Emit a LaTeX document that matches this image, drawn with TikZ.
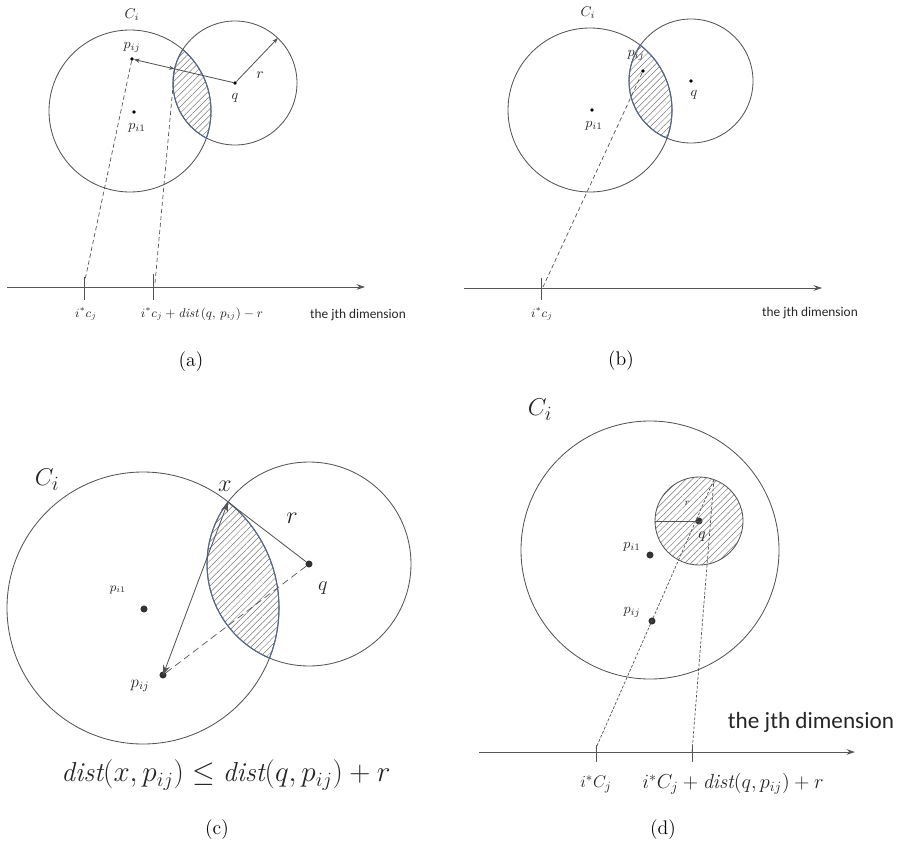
\documentclass[tikz,border=0pt]{standalone}
\usepackage{fontspec}
\newfontfamily\sansf{Carlito}
\usetikzlibrary{arrows.meta,patterns.meta,calc}
\definecolor{ln}{HTML}{555555}
\definecolor{lensc}{HTML}{56678A}
\definecolor{hatchc}{HTML}{777777}
\newcommand{\fs}[1]{\fontsize{#1}{#1}\selectfont}
\begin{document}
\begin{tikzpicture}[x=0.025cm,y=-0.025cm,
  circ/.style={draw=ln,line width=0.6pt},
  lensedge/.style={draw=lensc,line width=0.75pt},
  hatchfill/.style={pattern={Lines[angle=45,distance=3.2pt,line width=0.35pt]},pattern color=hatchc},
  dashln/.style={draw=ln,line width=0.5pt,dash pattern=on 3pt off 2pt},
  solidln/.style={draw=ln,line width=0.6pt},
  axisln/.style={draw=ln,line width=0.6pt,-{Stealth[length=6pt,width=4pt]}},
  tickln/.style={draw=ln,line width=0.6pt},
  dotS/.style={circle,fill=black,inner sep=0pt,minimum size=2.6pt},
  dotL/.style={circle,fill=black!80,inner sep=0pt,minimum size=5pt},
  lbl/.style={inner sep=0pt,text=black!85},
  dimS/.style={inner sep=0pt,font=\sansf\fs{9.5},text=black!85},
  captxt/.style={inner sep=0pt,font=\fs{14}},
]
\useasboundingbox (0,0) rectangle (905,847);

% ================= (a) =================
\coordinate (A1) at (130,111);
\node[dotS] (qa) at (235,83) {};
\begin{scope}\clip (A1) circle[radius=81]; \fill[hatchfill] (qa.center) circle[radius=62];\end{scope}
\draw[circ] (A1) circle[radius=81];
\draw[circ] (qa.center) circle[radius=62];
\begin{scope}\clip (A1) circle[radius=81]; \draw[lensedge] (qa.center) circle[radius=62];\end{scope}
\begin{scope}\clip (qa.center) circle[radius=62]; \draw[lensedge] (A1) circle[radius=81];\end{scope}
\node[dotS] (pija) at (132,59) {};
\node[dotS] (pi1a) at (134,112) {};
\coordinate (ea) at ($(qa.center)!1.55cm!(pija.center)$);
\coordinate (ra) at (277.8,38.1);
\draw[solidln,{Stealth[length=4pt,width=3pt]}-{Stealth[length=4pt,width=3pt]}] (pija) -- (ea);
\draw[solidln] (ea) -- (qa);
\draw[solidln,-{Stealth[length=4pt,width=3pt]}] (qa) -- (ra);
\coordinate (a0) at (7,287);
\coordinate (a1) at (365,287);
\draw[axisln] (a0) -- (a1);
\coordinate (ta1) at (84,277); \coordinate (tb1) at (84,300);
\coordinate (ta2) at (153,274); \coordinate (tb2) at (153,300);
\draw[tickln] (ta1) -- (tb1);
\draw[tickln] (ta2) -- (tb2);
\coordinate (da1) at (85,280);
\coordinate (da2) at (155,283);
\draw[dashln] (pija) -- (da1);
\draw[dashln] (ea) -- (da2);
\node[lbl,font=\fs{10}] (cia) at (132,15) {$C_i$};
\node[lbl,font=\fs{10}] (lpija) at (132,47) {$p_{ij}$};
\node[lbl,font=\fs{10}] (lpi1a) at (137,128) {$p_{i1}$};
\node[lbl,font=\fs{10}] (lqa) at (235,98) {$q$};
\node[lbl,font=\fs{11}] (lra) at (260,75) {$r$};
\node[lbl,font=\fs{9}] (xa1) at (86,314) {$i^{*}c_{j}$};
\node[lbl,font=\fs{9}] (xa2) at (202,314) {$i^{*}c_{j}+\mathit{dist}\,(q,\,p_{ij})-r$};
\node[dimS] (dima) at (358,315) {the jth dimension};
\node[captxt] (capa) at (191,362) {(a)};

% ================= (b) =================
\coordinate (B1) at (590,110);
\node[dotS] (qb) at (691,81) {};
\begin{scope}\clip (B1) circle[radius=82]; \fill[hatchfill] (qb.center) circle[radius=62];\end{scope}
\draw[circ] (B1) circle[radius=82];
\draw[circ] (qb.center) circle[radius=62];
\begin{scope}\clip (B1) circle[radius=82]; \draw[lensedge] (qb.center) circle[radius=62];\end{scope}
\begin{scope}\clip (qb.center) circle[radius=62]; \draw[lensedge] (B1) circle[radius=82];\end{scope}
\node[dotS] (pijb) at (643,71) {};
\node[dotS] (pi1b) at (592,110) {};
\coordinate (b0) at (464,288);
\coordinate (b1) at (822,288);
\draw[axisln] (b0) -- (b1);
\coordinate (tbA) at (541,278); \coordinate (tbB) at (541,300);
\draw[tickln] (tbA) -- (tbB);
\coordinate (db1) at (543,287);
\draw[dashln] (pijb) -- (db1);
\node[lbl,font=\fs{10}] (cib) at (588,13) {$C_i$};
\node[lbl,font=\fs{10}] (lpijb) at (636,55) {$p_{ij}$};
\node[lbl,font=\fs{10}] (lpi1b) at (594,126) {$p_{i1}$};
\node[lbl,font=\fs{10}] (lqb) at (694,95) {$q$};
\node[lbl,font=\fs{9}] (xb1) at (542,314) {$i^{*}c_{j}$};
\node[dimS] (dimb) at (810,313) {the jth dimension};
\node[captxt] (capb) at (621,361) {(b)};

% ================= (c) =================
\coordinate (C1) at (143,608);
\node[dotL] (qc) at (309,564) {};
\begin{scope}\clip (C1) circle[radius=136]; \fill[hatchfill] (qc.center) circle[radius=102];\end{scope}
\draw[circ] (C1) circle[radius=136];
\draw[circ] (qc.center) circle[radius=102];
\begin{scope}\clip (C1) circle[radius=136]; \draw[lensedge] (qc.center) circle[radius=102];\end{scope}
\begin{scope}\clip (qc.center) circle[radius=102]; \draw[lensedge] (C1) circle[radius=136];\end{scope}
\coordinate (xc) at (228,502);
\node[dotL] (pijc) at (163,675) {};
\node[dotL] (pi1c) at (144,609) {};
\draw[solidln,{Stealth[length=7pt,width=5pt]}-{Stealth[length=7pt,width=5pt]}] (xc) -- (pijc.center);
\draw[solidln] (xc) -- (qc);
\draw[dashln,dash pattern=on 5pt off 3pt] (qc) -- (pijc);
\node[lbl,font=\fs{19}] (cic) at (47,480) {$C_i$};
\node[lbl,font=\fs{18}] (lxc) at (225,486) {$x$};
\node[lbl,font=\fs{18}] (lrc) at (292,518) {$r$};
\node[lbl,font=\fs{14}] (lqc) at (323,588) {$q$};
\node[lbl,font=\fs{9}] (lpi1c) at (118,590) {$p_{i1}$};
\node[lbl,font=\fs{12}] (lpijc) at (140,686) {$p_{ij}$};
\node[lbl,font=\fs{19.5}] (formc) at (226,775) {$\mathit{dist}(x,p_{ij})\le \mathit{dist}(q,p_{ij})+r$};
\node[captxt] (capc) at (217,830) {(c)};

% ================= (d) =================
\coordinate (D1) at (650,550);
\node[dotL] (qd) at (699,521) {};
\fill[hatchfill] (qd.center) circle[radius=44];
\draw[circ] (D1) circle[radius=129];
\draw[circ] (qd.center) circle[radius=44];
\coordinate (rd) at (655,521);
\draw[solidln] (rd) -- (qd.center);
\coordinate (Td) at (713.9,479.6);
\node[dotL] (pi1d) at (650,555) {};
\node[dotL] (pijd) at (652,621) {};
\coordinate (d0) at (479,752);
\coordinate (d1) at (855,752);
\draw[axisln] (d0) -- (d1);
\coordinate (tdA) at (596,745); \coordinate (tdB) at (596,762);
\coordinate (tdC) at (692,747); \coordinate (tdD) at (692,762);
\draw[tickln] (tdA) -- (tdB);
\draw[tickln] (tdC) -- (tdD);
\coordinate (dd1) at (596,748);
\coordinate (dd2) at (692,752);
\draw[dashln,dash pattern=on 2pt off 1.2pt] (Td) -- (dd1);
\draw[dashln,dash pattern=on 2pt off 1.2pt] (Td) -- (dd2);
\node[lbl,font=\fs{19}] (cid) at (540,410) {$C_i$};
\node[lbl,font=\fs{10}] (lpi1d) at (632,547) {$p_{i1}$};
\node[lbl,font=\fs{10}] (lpijd) at (632,612) {$p_{ij}$};
\node[lbl,font=\fs{7}] (lrd) at (687,503) {$r$};
\node[lbl,font=\fs{11}] (lqd) at (702,537) {$q$};
\node[inner sep=0pt,font=\sansf\fs{16.5},text=black!85] (dimd) at (811,722) {the jth dimension};
\node[lbl,font=\fs{13}] (xd1) at (596,784) {$i^{*}C_{j}$};
\node[lbl,font=\fs{14.5}] (xd2) at (733,784) {$i^{*}C_{j}+\mathit{dist}(q,p_{ij})+r$};
\node[captxt] (capd) at (663,830) {(d)};
\end{tikzpicture}
\end{document}
